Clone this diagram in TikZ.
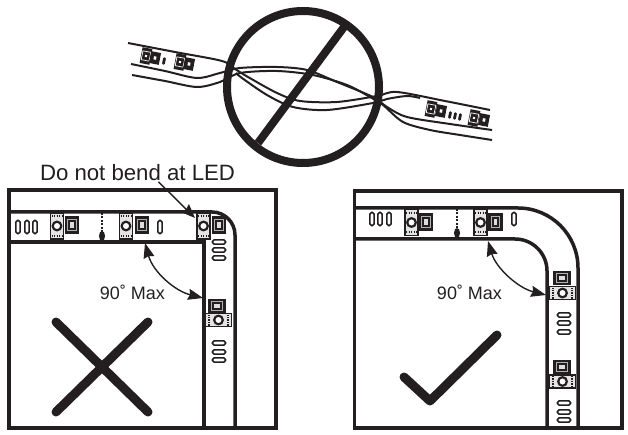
\documentclass[tikz,border=0pt]{standalone}
\usepackage{xcolor}
\usepackage{fontspec}
\setmainfont{Liberation Sans}
\usetikzlibrary{positioning, arrows.meta}
\definecolor{inkdark}{HTML}{231F20}
\tikzset{
 frameline/.style={line width=3.2pt, draw=inkdark},
 stripline/.style={line width=3.5pt, draw=inkdark},
 wireline/.style={line width=2pt, draw=inkdark},
 bigmark/.style={line width=9pt, draw=inkdark, line cap=round, line join=round},
 pointer/.style={line width=1.4pt, draw=inkdark, -{Stealth[length=14pt, width=11pt, inset=1.5pt]}},
 swing/.style={line width=1.4pt, draw=inkdark, {Stealth[length=15pt, width=11pt, inset=1.5pt]}-{Stealth[length=15pt, width=11pt, inset=1.5pt]}},
 ledbody/.pic={
  \draw[line width=1.5pt, draw=inkdark, fill=inkdark!12] (-6.3,-13) rectangle (6.3,13);
  \draw[line width=2.2pt, draw=inkdark, fill=white] (0,0) circle (4.3);
  \draw[line width=2.2pt, draw=inkdark, dash pattern=on 1.3pt off 1.2pt] (-5.5,-9.8) -- (5.5,-9.8) (-5.5,9.8) -- (5.5,9.8);
 },
 ledpad/.pic={
  \draw[line width=2.2pt, draw=inkdark, fill=inkdark!35] (-6,-7.5) rectangle (6,7.5);
  \draw[line width=2pt, draw=inkdark, fill=inkdark!15] (-2.8,-3.8) rectangle (2.8,3.8);
 },
 resbar/.pic={
  \draw[line width=1.6pt, draw=inkdark, fill=white, rounded corners=1.7pt] (-2.1,-6.5) rectangle (2.1,6.5);
 },
 ledsmall/.pic={
  \fill[inkdark] (-5,-8) rectangle (5,8);
  \draw[line width=0.7pt, white] (-4,-4.5) rectangle (4,4.5);
  \fill[white] (-1,-1) rectangle (1,1);
 },
 padsmall/.pic={
  \fill[inkdark] (-5,-6) rectangle (5,6);
  \fill[white] (-1.3,-1.6) rectangle (1.3,1.6);
 },
 ressmall/.pic={
  \fill[inkdark, rounded corners=1pt] (-1.4,-3.6) rectangle (1.4,3.6);
 },
}
\begin{document}
\begin{tikzpicture}[x=1pt, y=-1pt]
 \useasboundingbox (0,0) rectangle (628,435);

 %twisted strip
 \draw[wireline] plot[smooth, tension=0.5] coordinates {(128,43) (175,52) (222,61) (235,69) (248,77) (277,93) (300,101) (337,102) (377,96) (397,92) (445,101) (490,110)};
 \draw[wireline] plot[smooth, tension=0.5] coordinates {(236,73) (242,78) (267,95) (293,107) (327,110) (373,103) (387,99) (407,96) (420,98)};
 \draw[wireline] plot[smooth, tension=0.5] coordinates {(131,64) (165,71) (197,78) (220,73) (240,68) (277,67) (307,70) (337,82) (373,97) (387,107) (407,117) (450,124) (492,130)};
 \draw[wireline] plot[smooth, tension=0.5] coordinates {(132,75) (165,81) (197,87) (220,82) (240,73) (277,71) (313,75) (347,85) (370,97) (383,105) (403,122) (430,130) (460,135) (492,140)};
 \foreach \px/\py in {146/56, 180/62, 431/109, 474/118}
  \pic[rotate=-11] at (\px,\py) {ledsmall};
 \foreach \px/\py in {155/58, 189/64, 441/111, 484/120}
  \pic[rotate=-11] at (\px,\py) {padsmall};
 \foreach \px/\py in {164/61, 450/115, 455/116, 460/117}
  \pic[rotate=-11] at (\px,\py) {ressmall};

 %forbidden sign
 \draw[line width=8pt, draw=inkdark] (303,87) circle (76);
 \draw[line width=8pt, draw=inkdark] (258,143) -- (347,23);

 %frames
 \draw[frameline] (9,190) rectangle (276,428);
 \draw[frameline] (354.5,191) rectangle (622,428);

 %left strip
 \foreach \px in {57,126,203.5}
  \pic at (\px,226) {ledbody};
 \foreach \px in {72,142,219}
  \pic at (\px,225) {ledpad};
 \foreach \px in {18,27,35,160}
  \pic at (\px,227) {resbar};
 \foreach \py in {242,250,258,343,352,360}
  \pic[rotate=90] at (219,\py) {resbar};
 \pic[rotate=90] at (218.5,320) {ledbody};
 \pic[rotate=90] at (217,306) {ledpad};
 \draw[line width=1.2pt, draw=inkdark, dash pattern=on 2pt off 1.5pt] (102,213) -- (102,236);
 \fill[inkdark] (102,236) ellipse (3 and 5);
 \draw[stripline] (9,212) -- (212,212) arc[start angle=-90, end angle=0, radius=23] -- (235,428);
 \draw[stripline] (9,242) -- (204,242) -- (204,428);

 %right strip
 \foreach \px in {411.5,480.5}
  \pic at (\px,222.5) {ledbody};
 \foreach \px in {426,495.5}
  \pic at (\px,222) {ledpad};
 \foreach \px in {372,380,389,514}
  \pic at (\px,219) {resbar};
 \foreach \py in {315,323,332,403,412,420}
  \pic[rotate=90] at (564,\py) {resbar};
 \foreach \py in {293,381.5}
  \pic[rotate=90] at (562.5,\py) {ledbody};
 \foreach \py in {278,367}
  \pic[rotate=90] at (562,\py) {ledpad};
 \draw[line width=1.2pt, draw=inkdark, dash pattern=on 2pt off 1.5pt] (457,209) -- (457,233);
 \fill[inkdark] (457,233) ellipse (3 and 5);
 \draw[stripline] (354,208) -- (518,208) arc[start angle=-90, end angle=0, radius=60] -- (578,428);
 \draw[stripline] (354,239) -- (515,239) arc[start angle=-90, end angle=0, radius=32] -- (547,428);

 %labels
 \node[text=inkdark, inner sep=0pt, font=\fontsize{22.2}{25}\selectfont] (warnlabel) at (137.5,172.5) {Do not bend at LED};
 \node[text=inkdark, inner sep=0pt, font=\fontsize{18}{21}\selectfont] (leftmax) at (132.5,292) {90˚ Max};
 \node[text=inkdark, inner sep=0pt, font=\fontsize{18}{21}\selectfont] (rightmax) at (469.5,292) {90˚ Max};

 %arrows
 \coordinate (warntip) at (195,218);
 \coordinate (leftinner) at (145,243);
 \coordinate (leftouter) at (203,298);
 \coordinate (rightinner) at (488,241);
 \coordinate (rightouter) at (546,295);
 \draw[pointer] ([xshift=21pt, yshift=-1pt]warnlabel.south) -- (warntip);
 \draw[swing] (leftinner) .. controls (153,272) and (175,291) .. (leftouter);
 \draw[swing] (rightinner) .. controls (496,268) and (518,288) .. (rightouter);

 %cross and check
 \draw[bigmark] (56,322) -- (148,412);
 \draw[bigmark] (148,322) -- (56,412);
 \draw[bigmark] (404,377) -- (430,401) -- (497,335);
\end{tikzpicture}
\end{document}
